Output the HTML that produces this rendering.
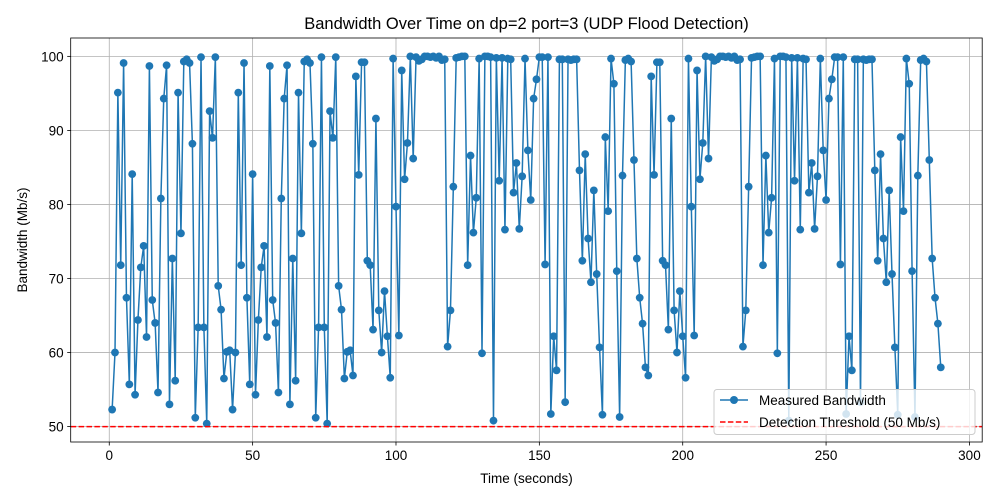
<!DOCTYPE html>
<html><head><meta charset="utf-8">
<style>
html,body{margin:0;padding:0;background:#fff;}
svg{display:block;font-family:"Liberation Sans","DejaVu Sans",sans-serif;}
</style></head>
<body>
<svg id="chart" width="1000" height="500" viewBox="0 0 1000 500" xmlns="http://www.w3.org/2000/svg">
<rect x="0" y="0" width="1000" height="500" fill="#fff"/>
<g id="grid"></g>
<g id="marks"></g>
<g id="axes"></g>
<text x="526.5" y="29" text-anchor="middle" font-size="16.5" fill="#000">Bandwidth Over Time on dp=2 port=3 (UDP Flood Detection)</text>
<text x="526.5" y="483" text-anchor="middle" font-size="13.5" fill="#000">Time (seconds)</text>
<text transform="translate(27,240) rotate(-90)" text-anchor="middle" font-size="13.5" fill="#000">Bandwidth (Mb/s)</text>
<g>
<rect x="714" y="389.5" width="261" height="45" rx="3" fill="#fff" fill-opacity="0.8" stroke="#cccccc" stroke-width="1"/>
<g>
<line x1="720" y1="400" x2="748" y2="400" stroke="#1f77b4" stroke-width="1.5"/>
<circle cx="734" cy="400" r="4" fill="#1f77b4"/>
<text x="759" y="405" font-size="13.5" fill="#000">Measured Bandwidth</text>
</g>
<g>
<line x1="720" y1="422" x2="748" y2="422" stroke="#ff0000" stroke-width="1.5" stroke-dasharray="5.5,2.4"/>
<text x="759" y="427" font-size="13.5" fill="#000">Detection Threshold (50 Mb/s)</text>
</g>
</g>
</svg>
<script>
const blockA = [52.3,60,95.1,71.8,99.1,67.4,55.7,84.1,54.3,64.4,71.5,74.4,62.1,98.7,67.1,64,54.6,80.8,94.3,98.8,53,72.7,56.2,95.1,76.1,99.3,99.6,99.1,88.2,51.2,63.4,99.9,63.4,50.4,92.6,89,99.9,69,65.8,56.5,60.1,60.3];
const blockB = [56.9,97.3,84,99.2,99.2,72.4,71.8,63.1,91.6,65.7,60,68.3,62.2,56.6,99.7,79.7,62.3,98.1,83.4,88.3,100,86.2,99.9,99.4,99.6,100,100,99.9,100,99.8,100,99.5,99.6,60.8,65.7,82.4,99.8,99.9,100,100,71.8,86.6,76.2,80.9,99.7,59.9,100,100,99.9,50.8,99.8,83.2,99.8,76.6,99.7,99.6,81.6,85.6,76.7,83.8,99.7,87.3,80.6,94.3,96.9,99.9,99.9,71.9,99.9,51.7,62.2,57.6,99.6,99.6,53.3,99.6,99.5,99.6,99.6,84.6,72.4,86.8,75.4,69.5,81.9,70.6,60.7,51.6,89.1,79.1,99.7,96.3,71,51.3,83.9,99.5,99.7,99.3,86,72.7,67.4,63.9,58];
const bandwidth = blockA.concat(blockA, blockB, blockB);
const times = bandwidth.map((v,i)=>i+1);
const xTicks = [0,50,100,150,200,250,300];
const yTicks = [50,60,70,80,90,100];
const threshold = 50;

const L=70.7,R=982.2,T=38,B=442;
const xmin=Math.min(...times),xmax=Math.max(...times);
const xpad=(xmax-xmin)*0.05;
const ymin0=Math.min(...bandwidth),ymax0=Math.max(...bandwidth);
const ypad=(ymax0-ymin0)*0.05;
const x=v=>L+(v-(xmin-xpad))/((xmax+xpad)-(xmin-xpad))*(R-L);
const y=v=>B-(v-(ymin0-ypad))/((ymax0+ypad)-(ymin0-ypad))*(B-T);
const NS="http://www.w3.org/2000/svg";
function mk(tag,attrs,parent){const e=document.createElementNS(NS,tag);for(const k in attrs)e.setAttribute(k,attrs[k]);parent.appendChild(e);return e;}
const grid=document.getElementById('grid'),marks=document.getElementById('marks'),axes=document.getElementById('axes');
xTicks.forEach(t=>{
  const g=mk('line',{x1:x(t),x2:x(t),y1:T,y2:B,stroke:'#b0b0b0','stroke-width':0.8},grid);
  
  
  const tk=mk('line',{x1:x(t),x2:x(t),y1:B,y2:B+3.5,stroke:'#000','stroke-width':0.8},axes);
  
  
  const lb=mk('text',{x:x(t),y:B+18,'text-anchor':'middle','font-size':13.5,fill:'#000'},axes);
  lb.textContent=t;
  
  
});
yTicks.forEach(t=>{
  const g=mk('line',{x1:L,x2:R,y1:y(t),y2:y(t),stroke:'#b0b0b0','stroke-width':0.8},grid);
  
  
  const tk=mk('line',{x1:L-3.5,x2:L,y1:y(t),y2:y(t),stroke:'#000','stroke-width':0.8},axes);
  
  
  const lb=mk('text',{x:L-7,y:y(t)+5,'text-anchor':'end','font-size':13.5,fill:'#000'},axes);
  lb.textContent=t;
  
  
});
const pts=bandwidth.map((v,i)=>x(times[i]).toFixed(2)+','+y(v).toFixed(2)).join(' ');
const line=mk('polyline',{points:pts,fill:'none',stroke:'#1f77b4','stroke-width':1.5,'stroke-linejoin':'round'},marks);


bandwidth.forEach((v,i)=>{
  const c=mk('circle',{cx:x(times[i]),cy:y(v),r:3.9,fill:'#1f77b4'},marks);
  
  
});
const th=mk('line',{x1:L,x2:R,y1:y(threshold),y2:y(threshold),stroke:'#ff0000','stroke-width':1.5,'stroke-dasharray':'5.5,2.4'},marks);


const fr=mk('rect',{x:L,y:T,width:R-L,height:B-T,fill:'none',stroke:'#000','stroke-width':0.8},axes);


</script>
</body></html>
